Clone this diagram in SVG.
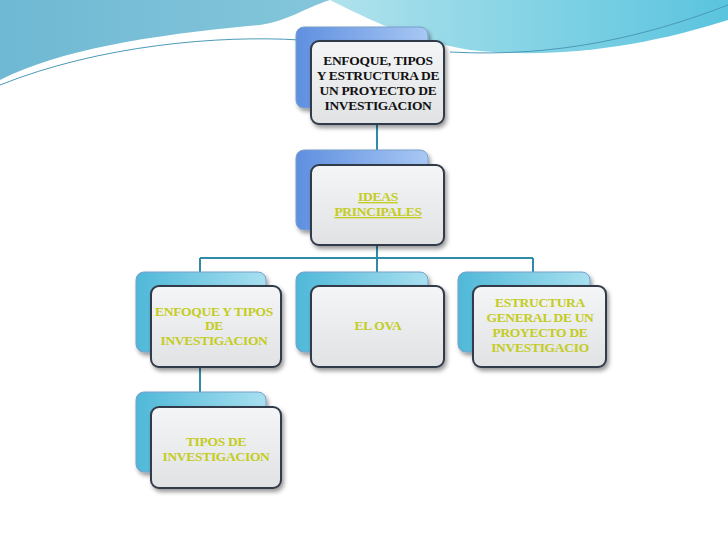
<svg xmlns="http://www.w3.org/2000/svg" width="728" height="546" viewBox="0 0 728 546">
<defs>
<linearGradient id="bg" x1="0" y1="0" x2="1" y2="0"><stop offset="0" stop-color="#6fb8d3"/><stop offset="0.5" stop-color="#86c8dc"/><stop offset="1" stop-color="#b8e8ee"/></linearGradient>
<linearGradient id="bg2" x1="0" y1="0" x2="1" y2="0"><stop offset="0" stop-color="#b0e2ec"/><stop offset="1" stop-color="#5ac4de"/></linearGradient>
<linearGradient id="back" x1="0" y1="0" x2="1" y2="0"><stop offset="0" stop-color="#5f8fe0"/><stop offset="1" stop-color="#a8c8f4"/></linearGradient>
<linearGradient id="backc" x1="0" y1="0" x2="1" y2="0"><stop offset="0" stop-color="#4fb8d8"/><stop offset="1" stop-color="#a8e0f0"/></linearGradient>
<linearGradient id="front" x1="0" y1="0" x2="0" y2="1"><stop offset="0" stop-color="#f4f5f6"/><stop offset="1" stop-color="#e0e2e4"/></linearGradient>
<filter id="sh" x="-10%" y="-10%" width="130%" height="130%"><feDropShadow dx="2" dy="3" stdDeviation="2" flood-opacity="0.4"/></filter>
</defs>
<style>
.b{stroke:#7aa0c8;stroke-width:1;filter:url(#sh)}
.f{fill:url(#front);stroke:#303a48;stroke-width:2;filter:url(#sh)}
.t{font-family:"Liberation Serif",serif;font-weight:bold;font-size:13.5px;letter-spacing:-0.3px;text-anchor:middle}
.k{fill:#111}
.y{fill:#c4cc22}
.c{stroke:#2e8ca8;stroke-width:2;fill:none}
</style>
<rect width="728" height="546" fill="#ffffff"/>
<path d="M0 0H728V0C600 0 450 0 330 0C300 10 290 20 260 25C150 35 60 50 0 80Z" fill="url(#bg)"/>
<path d="M330 0H728V20C650 45 560 60 470 50C410 40 370 20 330 0Z" fill="url(#bg2)"/>
<path d="M0 85C100 45 220 35 300 40" stroke="#4a9ab8" stroke-width="1" fill="none"/>
<path d="M450 52C560 58 650 35 728 5" stroke="#4a9ab8" stroke-width="1" fill="none"/>
<g id="connectors" class="c">
<path d="M377 124V165M377 245V258M200 258H533M200 258V272M377 258V286M533 258V272M200 352V392"/>
</g>
<g id="n1"><rect class="b" fill="url(#back)" x="296" y="27" width="132" height="81" rx="8"/><rect class="f" x="311" y="41" width="133" height="83" rx="8"/>
<text class="t k" x="378" y="65">ENFOQUE, TIPOS</text><text class="t k" x="378" y="80">Y ESTRUCTURA DE</text><text class="t k" x="378" y="95">UN PROYECTO DE</text><text class="t k" x="378" y="110">INVESTIGACION</text></g>
<g id="n2"><rect class="b" fill="url(#back)" x="296" y="150" width="132" height="80" rx="8"/><rect class="f" x="311" y="165" width="133" height="80" rx="8"/>
<text class="t y" x="378" y="201" text-decoration="underline">IDEAS</text><text class="t y" x="378" y="216" text-decoration="underline">PRINCIPALES</text></g>
<g id="n3"><rect class="b" fill="url(#backc)" x="136" y="272" width="130" height="80" rx="8"/><rect class="f" x="151" y="286" width="130" height="81" rx="8"/>
<text class="t y" x="214" y="316">ENFOQUE Y TIPOS</text><text class="t y" x="214" y="330">DE</text><text class="t y" x="214" y="345">INVESTIGACION</text></g>
<g id="n4"><rect class="b" fill="url(#backc)" x="296" y="272" width="132" height="80" rx="8"/><rect class="f" x="311" y="286" width="133" height="81" rx="8"/>
<text class="t y" x="378" y="330">EL OVA</text></g>
<g id="n5"><rect class="b" fill="url(#backc)" x="458" y="272" width="132" height="80" rx="8"/><rect class="f" x="473" y="286" width="133" height="81" rx="8"/>
<text class="t y" x="540" y="307">ESTRUCTURA</text><text class="t y" x="540" y="322">GENERAL DE UN</text><text class="t y" x="540" y="337">PROYECTO DE</text><text class="t y" x="540" y="352">INVESTIGACIO</text></g>
<g id="n6"><rect class="b" fill="url(#backc)" x="136" y="392" width="130" height="80" rx="8"/><rect class="f" x="151" y="407" width="130" height="81" rx="8"/>
<text class="t y" x="216" y="446">TIPOS DE</text><text class="t y" x="216" y="461">INVESTIGACION</text></g>
</svg>
